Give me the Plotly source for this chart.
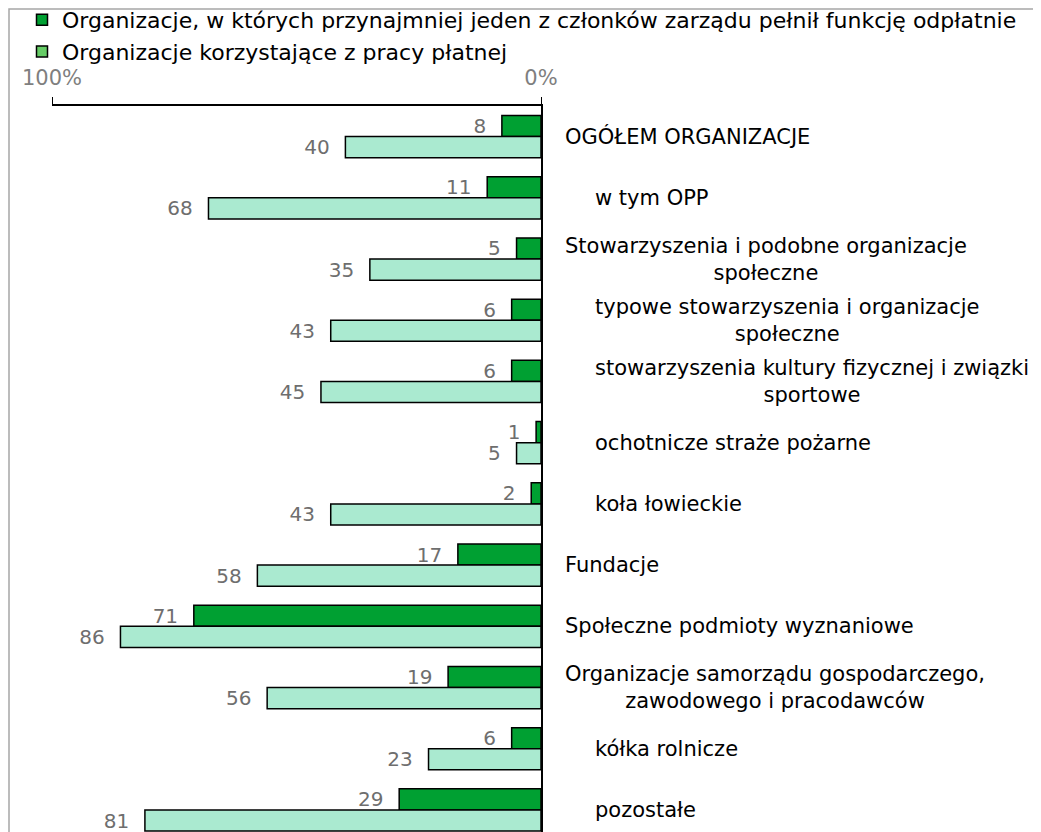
import plotly.graph_objects as go

categories = [
    "OGÓŁEM ORGANIZACJE",
    "w tym OPP",
    "Stowarzyszenia i podobne organizacje<br>społeczne",
    "typowe stowarzyszenia i organizacje<br>społeczne",
    "stowarzyszenia kultury fizycznej i związki<br>sportowe",
    "ochotnicze straże pożarne",
    "koła łowieckie",
    "Fundacje",
    "Społeczne podmioty wyznaniowe",
    "Organizacje samorządu gospodarczego,<br>zawodowego i pracodawców",
    "kółka rolnicze",
    "pozostałe",
]
# sub-categories are indented in the label column
is_sub = [False, True, False, True, True, True, True, False, False, False, True, True]

paid_board = [8, 11, 5, 6, 6, 1, 2, 17, 71, 19, 6, 29]
paid_work = [40, 68, 35, 43, 45, 5, 43, 58, 86, 56, 23, 81]

series_names = [
    "Organizacje, w których przynajmniej jeden z członków zarządu pełnił funkcję odpłatnie",
    "Organizacje korzystające z pracy płatnej",
]

FONT = "DejaVu Sans"
# the page body has an 8px margin, so the figure is drawn 8px in from the window
OFF = 8
W, H = 1041 - OFF, 832 - OFF
X0, X1, TOP = 52, 541, 106   # plot area edges in window pixels


def px_x(px):
    return (px - X0) / (X1 - X0)


def px_y(py):
    return (832 - py) / (832 - TOP)


fig = go.Figure()

for vals, color, name in [(paid_board, "#00A032", series_names[0]),
                          (paid_work, "#AAEAD0", series_names[1])]:
    fig.add_trace(go.Bar(
        x=vals, y=categories, orientation="h", name=name,
        marker=dict(color=color, line=dict(color="black", width=1.5)),
        text=vals, texttemplate="%{text}\u00a0\u00a0", textposition="outside",
        constraintext="none", cliponaxis=False,
        textfont=dict(family=FONT, size=20, color="#6E6E6E"),
        showlegend=False,
    ))

# legend entries (Excel draws the second key brighter than the bar fill)
for color, name in [("#00A032", series_names[0]), ("#66CC66", series_names[1])]:
    fig.add_trace(go.Scatter(
        x=[None], y=[None], mode="markers", name=name,
        marker=dict(symbol="square", size=11, color=color,
                    line=dict(color="black", width=1.5)),
    ))

for cat, sub in zip(categories, is_sub):
    fig.add_annotation(
        x=px_x(593 if sub else 563), xref="paper", y=cat, yref="y",
        text=cat, showarrow=False, xanchor="left", yanchor="middle", align="center",
        font=dict(family=FONT, size=21, color="black"),
    )

# outer chart frame
fig.add_shape(type="rect", xref="paper", yref="paper",
              x0=px_x(OFF + 1), x1=px_x(1100), y0=px_y(900), y1=px_y(OFF + 1),
              line=dict(color="#A6A6A6", width=1.5))

fig.update_layout(
    width=W, height=H,
    margin=dict(l=X0 - OFF, r=1041 - X1, t=TOP - OFF, b=0, autoexpand=False),
    paper_bgcolor="white", plot_bgcolor="white",
    barmode="group", bargap=0.31, bargroupgap=0,
    font=dict(family=FONT, size=18, color="black"),
    legend=dict(x=px_x(22), y=px_y(-1), xanchor="left", yanchor="top",
                traceorder="normal", font=dict(family=FONT, size=22),
                bgcolor="rgba(0,0,0,0)", itemwidth=30),
    xaxis=dict(range=[100, 0], side="top", showgrid=False, zeroline=False,
               showline=True, linecolor="black", linewidth=1.5,
               ticks="outside", ticklen=7, tickcolor="black",
               tickvals=[0, 100], ticktext=["0%", "100%"],
               ticklabelstandoff=4,
               tickfont=dict(family=FONT, size=21, color="#7F7F7F")),
    yaxis=dict(autorange=False, range=[11.36, -0.5], side="right", showgrid=False,
               showline=True, linecolor="black", linewidth=1.5,
               showticklabels=False, ticks=""),
)

fig.write_html("out.html")
